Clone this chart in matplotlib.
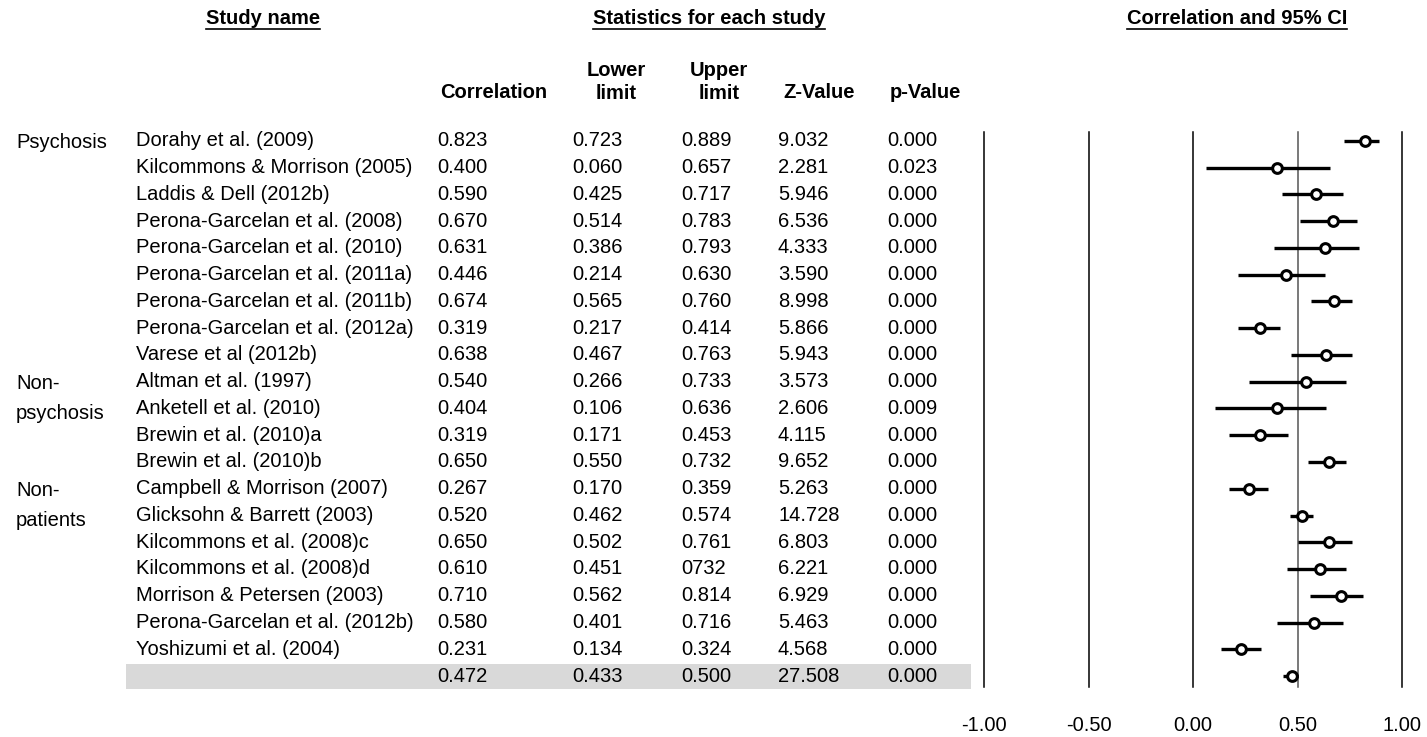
import matplotlib
matplotlib.use("Agg")
import matplotlib.pyplot as plt
from matplotlib.transforms import blended_transform_factory
from matplotlib.patches import Rectangle

plt.rcParams['font.family'] = ['Liberation Sans', 'DejaVu Sans']

# data
studies = ["Dorahy et al. (2009)", "Kilcommons & Morrison (2005)", "Laddis & Dell (2012b)",
           "Perona-Garcelan et al. (2008)", "Perona-Garcelan et al. (2010)",
           "Perona-Garcelan et al. (2011a)", "Perona-Garcelan et al. (2011b)",
           "Perona-Garcelan et al. (2012a)", "Varese et al (2012b)", "Altman et al. (1997)",
           "Anketell et al. (2010)", "Brewin et al. (2010)a", "Brewin et al. (2010)b",
           "Campbell & Morrison (2007)", "Glicksohn & Barrett (2003)",
           "Kilcommons et al. (2008)c", "Kilcommons et al. (2008)d",
           "Morrison & Petersen (2003)", "Perona-Garcelan et al. (2012b)",
           "Yoshizumi et al. (2004)", ""]
corr = [0.823, 0.400, 0.590, 0.670, 0.631, 0.446, 0.674, 0.319, 0.638, 0.540, 0.404,
        0.319, 0.650, 0.267, 0.520, 0.650, 0.610, 0.710, 0.580, 0.231, 0.472]
lower = [0.723, 0.060, 0.425, 0.514, 0.386, 0.214, 0.565, 0.217, 0.467, 0.266, 0.106,
         0.171, 0.550, 0.170, 0.462, 0.502, 0.451, 0.562, 0.401, 0.134, 0.433]
upper = [0.889, 0.657, 0.717, 0.783, 0.793, 0.630, 0.760, 0.414, 0.763, 0.733, 0.636,
         0.453, 0.732, 0.359, 0.574, 0.761, 0.732, 0.814, 0.716, 0.324, 0.500]
zval = [9.032, 2.281, 5.946, 6.536, 4.333, 3.590, 8.998, 5.866, 5.943, 3.573, 2.606,
        4.115, 9.652, 5.263, 14.728, 6.803, 6.221, 6.929, 5.463, 4.568, 27.508]
pval = [0.000, 0.023, 0.000, 0.000, 0.000, 0.000, 0.000, 0.000, 0.000, 0.000, 0.009,
        0.000, 0.000, 0.000, 0.000, 0.000, 0.000, 0.000, 0.000, 0.000, 0.000]
groups = [("Psychosis", 0), ("Non-\npsychosis", 9), ("Non-\npatients", 13)]
xticks = [-1.0, -0.5, 0.0, 0.5, 1.0]

W, H = 1427, 737
fig = plt.figure(figsize=(W / 100, H / 100), dpi=100)
fig.patch.set_facecolor("white")

row_h = 26.75
top_px, bot_px = 132, 687
y_top = -(141 - top_px) / row_h
y_bot = 20 + (bot_px - 676) / row_h
ax = fig.add_axes([984 / W, 1 - bot_px / H, (1402 - 984) / W, (bot_px - top_px) / H])
ax.set_xlim(-1, 1)
ax.set_ylim(y_bot, y_top)
for s in ax.spines.values():
    s.set_visible(False)
fs = 14.5
ax.set_yticks([])
ax.set_xticks(xticks)
ax.set_xticklabels([f"{t:.2f}" for t in xticks], fontsize=fs)
ax.tick_params(axis="x", length=0, pad=21)

for t in xticks:
    ax.axvline(t, color="#555555" if t == 0.5 else "black", lw=1.1, clip_on=False)

rows = list(range(len(corr)))
ax.hlines(rows, lower, upper, color="black", lw=2.4, clip_on=False)
ax.plot(corr, rows, "o", ms=7, mfc="white", mec="black", mew=2.2, clip_on=False, zorder=3)

# table text
tr = blended_transform_factory(fig.transFigure, ax.transData)
upper_text = [f"{v:.3f}" for v in upper]
upper_text[16] = "0732"  # as printed in the source
fig.add_artist(Rectangle((126 / W, 20 - 0.45), (971 - 126) / W, 0.94, transform=tr,
                         facecolor="#d9d9d9", edgecolor="none", zorder=0))
for i in rows:
    ax.text(136 / W, i, studies[i], transform=tr, fontsize=fs, va="center", clip_on=False)
    ax.text(437 / W, i, f"{corr[i]:.3f}", transform=tr, fontsize=fs, va="center")
    ax.text(572 / W, i, f"{lower[i]:.3f}", transform=tr, fontsize=fs, va="center")
    ax.text(681 / W, i, upper_text[i], transform=tr, fontsize=fs, va="center")
    ax.text(778 / W, i, f"{zval[i]:.3f}", transform=tr, fontsize=fs, va="center")
    ax.text(887 / W, i, f"{pval[i]:.3f}", transform=tr, fontsize=fs, va="center")

for label, r in groups:
    for k, line in enumerate(label.split("\n")):
        ax.text(16 / W, r + 0.07 + k * 1.12, line, transform=tr, fontsize=fs, va="center")

# column headers
hb = dict(fontsize=14.5, fontweight="bold", ha="center", va="center")
fig.text(494 / W, 1 - 93 / H, "Correlation", **hb)
fig.text(616 / W, 1 - 82 / H, "Lower\nlimit", linespacing=1.25, **hb)
fig.text(719 / W, 1 - 82 / H, "Upper\nlimit", linespacing=1.25, **hb)
fig.text(819 / W, 1 - 93 / H, "Z-Value", **hb)
fig.text(925 / W, 1 - 93 / H, "p-Value", **hb)

titles = [("Study name", 263), ("Statistics for each study", 709), ("Correlation and 95% CI", 1237)]
renderer = fig.canvas.get_renderer()
for txt, xc in titles:
    t = fig.text(xc / W, 1 - 19 / H, txt, **hb)
    bb = t.get_window_extent(renderer).transformed(fig.transFigure.inverted())
    fig.add_artist(plt.Line2D([bb.x0, bb.x1], [bb.y0 - 0.001, bb.y0 - 0.001],
                              transform=fig.transFigure, color="black", lw=1.2))

fig.savefig("out.png", dpi=100, facecolor="white")
